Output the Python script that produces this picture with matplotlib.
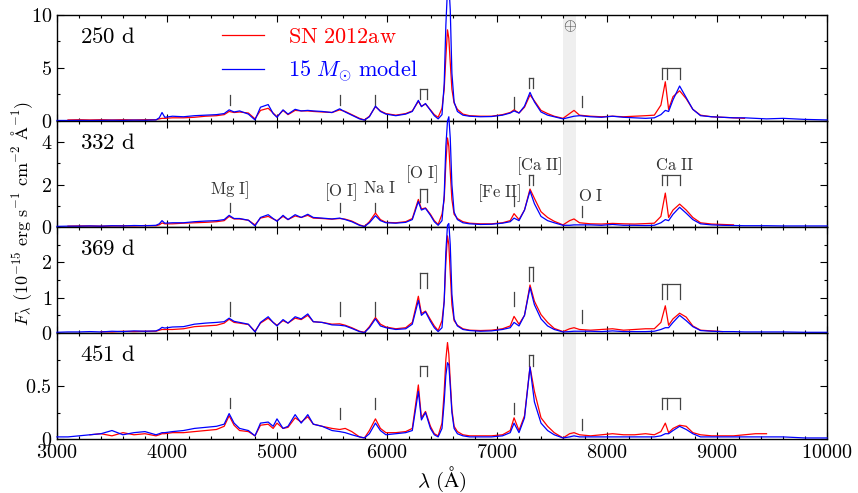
import numpy as np
import matplotlib.pyplot as plt
from matplotlib.ticker import MultipleLocator, FixedLocator, FormatStrFormatter

plt.rcParams['font.family'] = 'serif'
plt.rcParams['font.serif'] = ['cmr10']
plt.rcParams['mathtext.fontset'] = 'cm'
plt.rcParams['axes.formatter.use_mathtext'] = True

nan = np.nan

# wavelength samples (Angstrom)
wave = [3000, 3100, 3200, 3300, 3400, 3500, 3600, 3700, 3800, 3900,
        3930, 3955, 3980, 4050, 4150, 4250, 4350, 4450, 4520, 4565,
        4610, 4660, 4740, 4800, 4850, 4920, 4965, 5000, 5055, 5100,
        5165, 5220, 5280, 5330, 5410, 5500, 5570, 5620, 5680, 5750,
        5795, 5840, 5895, 5940, 5990, 6080, 6170, 6230, 6285, 6313,
        6350, 6395, 6430, 6465, 6500, 6520, 6535, 6550, 6562, 6575,
        6590, 6610, 6640, 6690, 6750, 6850, 6950, 7050, 7120, 7155,
        7200, 7250, 7300, 7340, 7400, 7460, 7520, 7600, 7660, 7700,
        7750, 7850, 7950, 8050, 8150, 8250, 8350, 8430, 8490, 8530,
        8560, 8600, 8660, 8720, 8780, 8850, 8950, 9050, 9150, 9250,
        9350, 9450, 9600, 9800, 10000]

# SN 2012aw observed spectra (1e-15 erg/s/cm2/A)
obs_250 = [nan, 0.10, 0.12, 0.10, 0.12, 0.10, 0.12, 0.10, 0.12, 0.12,
           0.20, 0.25, 0.25, 0.30, 0.30, 0.35, 0.45, 0.50, 0.60, 0.90,
           0.80, 0.85, 0.75, 0.20, 1.00, 1.20, 0.75, 0.40, 1.00, 0.60,
           1.00, 0.95, 0.95, 0.90, 0.85, 0.80, 1.05, 0.90, 0.60, 0.25,
           0.10, 0.45, 1.35, 0.95, 0.70, 0.55, 0.70, 0.95, 1.85, 1.40,
           1.60, 1.05, 0.60, 0.35, 1.20, 3.00, 6.00, 8.60, 7.80, 5.50,
           3.00, 1.70, 1.10, 0.65, 0.50, 0.45, 0.45, 0.60, 0.80, 1.05,
           0.75, 1.30, 2.45, 1.90, 1.00, 0.70, 0.45, 0.25, 0.70, 1.00,
           0.55, 0.45, 0.40, 0.45, 0.40, 0.45, 0.50, 0.55, 1.50, 3.70,
           1.10, 2.30, 2.85, 2.10, 1.10, 0.55, 0.40, 0.35, 0.30, 0.25,
           nan, nan, nan, nan, nan]
obs_332 = [nan, 0.04, 0.05, 0.05, 0.04, 0.05, 0.06, 0.05, 0.07, 0.06,
           0.10, 0.19, 0.15, 0.15, 0.18, 0.20, 0.22, 0.25, 0.30, 0.50,
           0.38, 0.38, 0.32, 0.10, 0.42, 0.50, 0.38, 0.30, 0.50, 0.35,
           0.52, 0.45, 0.55, 0.42, 0.40, 0.37, 0.40, 0.37, 0.28, 0.10,
           0.03, 0.25, 0.66, 0.35, 0.22, 0.20, 0.25, 0.40, 1.30, 0.85,
           0.90, 0.60, 0.30, 0.12, 0.60, 1.30, 3.00, 4.20, 3.80, 2.60,
           1.30, 0.60, 0.40, 0.25, 0.18, 0.15, 0.15, 0.20, 0.30, 0.63,
           0.35, 0.80, 1.79, 1.35, 0.72, 0.45, 0.27, 0.10, 0.30, 0.38,
           0.20, 0.15, 0.14, 0.17, 0.15, 0.14, 0.16, 0.18, 0.50, 1.60,
           0.45, 0.80, 1.08, 0.80, 0.45, 0.20, 0.14, 0.12, 0.10, nan,
           nan, nan, nan, nan, nan]
obs_369 = [nan, nan, nan, nan, 0.04, 0.03, 0.05, 0.04, 0.05, 0.05,
           0.08, 0.10, 0.10, 0.10, 0.12, 0.18, 0.20, 0.22, 0.28, 0.39,
           0.30, 0.28, 0.24, 0.05, 0.28, 0.42, 0.30, 0.22, 0.35, 0.28,
           0.42, 0.38, 0.50, 0.32, 0.30, 0.25, 0.26, 0.22, 0.15, 0.05,
           0.02, 0.18, 0.44, 0.25, 0.17, 0.12, 0.15, 0.30, 1.04, 0.55,
           0.62, 0.38, 0.20, 0.07, 0.35, 0.90, 2.00, 2.75, 2.50, 1.70,
           0.80, 0.35, 0.22, 0.12, 0.08, 0.07, 0.08, 0.12, 0.20, 0.47,
           0.25, 0.50, 1.36, 0.90, 0.52, 0.30, 0.13, 0.04, 0.12, 0.15,
           0.10, 0.08, 0.10, 0.12, 0.08, 0.10, 0.12, 0.12, 0.30, 0.77,
           0.22, 0.40, 0.56, 0.45, 0.20, 0.08, 0.06, 0.04, nan, nan,
           nan, nan, nan, nan, nan]
obs_451 = [nan, nan, nan, 0.04, 0.05, 0.03, 0.06, 0.04, 0.05, 0.03,
           0.04, 0.05, 0.05, 0.06, 0.06, 0.07, 0.08, 0.09, 0.12, 0.22,
           0.13, 0.08, 0.07, 0.03, 0.13, 0.14, 0.10, 0.15, 0.10, 0.11,
           0.20, 0.16, 0.21, 0.14, 0.12, 0.10, 0.09, 0.10, 0.07, 0.02,
           0.01, 0.08, 0.19, 0.10, 0.06, 0.06, 0.07, 0.10, 0.51, 0.20,
           0.26, 0.12, 0.05, 0.03, 0.15, 0.45, 0.75, 0.91, 0.80, 0.55,
           0.28, 0.12, 0.07, 0.04, 0.03, 0.03, 0.03, 0.04, 0.08, 0.20,
           0.08, 0.22, 0.68, 0.45, 0.20, 0.12, 0.06, 0.01, 0.05, 0.06,
           0.04, 0.03, 0.04, 0.05, 0.04, 0.04, 0.05, 0.04, 0.07, 0.15,
           0.06, 0.10, 0.13, 0.12, 0.06, 0.04, 0.03, 0.03, 0.03, 0.04,
           0.05, 0.05, nan, nan, nan]

# 15 Msun model spectra
mod_250 = [0.05, 0.05, 0.06, 0.05, 0.06, 0.07, 0.06, 0.08, 0.07, 0.10,
           0.30, 0.80, 0.35, 0.45, 0.40, 0.50, 0.55, 0.60, 0.70, 1.05,
           0.85, 0.95, 0.65, 0.10, 1.30, 1.55, 0.70, 0.35, 1.05, 0.65,
           1.10, 0.95, 1.00, 0.95, 0.90, 0.80, 1.15, 0.85, 0.55, 0.20,
           0.08, 0.40, 1.40, 0.90, 0.65, 0.50, 0.65, 0.90, 1.95, 1.35,
           1.65, 1.00, 0.50, 0.20, 0.60, 3.50, 9.00, 12.5, 13.0, 10.5,
           4.50, 1.80, 0.90, 0.55, 0.45, 0.40, 0.42, 0.55, 0.75, 0.95,
           0.75, 1.40, 2.70, 1.80, 0.85, 0.55, 0.40, 0.20, 0.35, 0.45,
           0.50, 0.40, 0.35, 0.45, 0.35, 0.30, 0.25, 0.30, 0.60, 1.00,
           0.90, 2.00, 3.30, 2.20, 1.10, 0.50, 0.40, 0.35, 0.30, 0.30,
           0.25, 0.20, 0.25, 0.15, 0.10]
mod_332 = [0.03, 0.04, 0.04, 0.05, 0.04, 0.06, 0.05, 0.07, 0.06, 0.08,
           0.15, 0.30, 0.18, 0.20, 0.20, 0.25, 0.28, 0.30, 0.35, 0.55,
           0.40, 0.40, 0.32, 0.05, 0.45, 0.58, 0.40, 0.27, 0.55, 0.35,
           0.58, 0.45, 0.60, 0.45, 0.42, 0.38, 0.42, 0.35, 0.25, 0.08,
           0.02, 0.20, 0.53, 0.30, 0.20, 0.18, 0.22, 0.35, 1.20, 0.80,
           0.88, 0.55, 0.25, 0.08, 0.30, 1.50, 3.80, 5.00, 5.20, 4.20,
           2.00, 0.70, 0.35, 0.20, 0.15, 0.12, 0.13, 0.18, 0.25, 0.42,
           0.30, 0.80, 1.70, 1.10, 0.50, 0.30, 0.20, 0.08, 0.08, 0.10,
           0.10, 0.10, 0.08, 0.12, 0.08, 0.08, 0.07, 0.08, 0.20, 0.35,
           0.30, 0.60, 0.93, 0.65, 0.35, 0.15, 0.10, 0.08, 0.07, 0.06,
           0.06, 0.06, 0.05, 0.05, 0.05]
mod_369 = [0.02, 0.03, 0.03, 0.04, 0.03, 0.05, 0.04, 0.06, 0.05, 0.06,
           0.10, 0.16, 0.14, 0.17, 0.18, 0.25, 0.28, 0.30, 0.32, 0.42,
           0.33, 0.30, 0.25, 0.03, 0.30, 0.46, 0.30, 0.20, 0.38, 0.28,
           0.46, 0.40, 0.54, 0.32, 0.30, 0.23, 0.22, 0.20, 0.13, 0.04,
           0.01, 0.15, 0.40, 0.20, 0.15, 0.10, 0.12, 0.25, 0.92, 0.50,
           0.60, 0.33, 0.15, 0.04, 0.15, 0.90, 2.30, 3.05, 3.10, 2.50,
           1.10, 0.40, 0.20, 0.10, 0.07, 0.05, 0.06, 0.10, 0.15, 0.30,
           0.20, 0.50, 1.29, 0.80, 0.40, 0.20, 0.10, 0.03, 0.04, 0.05,
           0.05, 0.05, 0.04, 0.06, 0.04, 0.04, 0.04, 0.05, 0.10, 0.15,
           0.15, 0.30, 0.50, 0.35, 0.18, 0.07, 0.05, 0.04, 0.04, 0.03,
           0.03, 0.03, 0.03, 0.02, 0.02]
mod_451 = [0.02, 0.02, 0.03, 0.04, 0.05, 0.08, 0.04, 0.06, 0.07, 0.04,
           0.05, 0.06, 0.06, 0.07, 0.08, 0.10, 0.11, 0.12, 0.14, 0.24,
           0.15, 0.10, 0.08, 0.03, 0.15, 0.16, 0.12, 0.19, 0.10, 0.12,
           0.23, 0.15, 0.23, 0.14, 0.12, 0.08, 0.07, 0.06, 0.04, 0.02,
           0.01, 0.05, 0.15, 0.08, 0.04, 0.05, 0.06, 0.08, 0.45, 0.18,
           0.25, 0.10, 0.04, 0.02, 0.10, 0.35, 0.60, 0.72, 0.70, 0.50,
           0.25, 0.10, 0.05, 0.03, 0.02, 0.02, 0.02, 0.03, 0.06, 0.15,
           0.06, 0.20, 0.68, 0.35, 0.15, 0.08, 0.04, 0.01, 0.02, 0.03,
           0.02, 0.02, 0.02, 0.02, 0.02, 0.02, 0.02, 0.02, 0.03, 0.05,
           0.05, 0.08, 0.12, 0.09, 0.05, 0.02, 0.02, 0.02, 0.02, 0.02,
           0.02, 0.02, 0.02, 0.01, 0.01]

epochs = ['250 d', '332 d', '369 d', '451 d']
observed = [obs_250, obs_332, obs_369, obs_451]
model = [mod_250, mod_332, mod_369, mod_451]
ymax = [10, 5, 3, 1]
yticks = [[0, 5, 10], [0, 2, 4], [0, 1, 2], [0, 0.5]]
yminor = [2.5, 1, 0.5, 0.25]

# line identifications
line_names = ['Mg I]', '[O I]', 'Na I', '[O I]', '[Fe II]', '[Ca II]', 'O I', 'Ca II']
line_waves = [[4571], [5577], [5890], [6300, 6364], [7155], [7291, 7324], [7774],
              [8498, 8542, 8662]]
# (bottom, top) of each marker, per epoch
mark_250 = [(1.5, 2.45), (1.5, 2.45), (1.5, 2.45), (2.04, 3.05), (1.1, 2.23),
            (3.08, 4.03), (1.35, 2.36), (3.96, 4.97)]
mark_332 = [(0.7, 1.15), (0.7, 1.15), (0.7, 1.15), (1.18, 1.79), (0.97, 1.47),
            (2.0, 2.47), (0.48, 0.97), (2.0, 2.47)]
mark_369 = [(0.48, 0.89), (0.47, 0.89), (0.47, 0.89), (1.27, 1.69), (0.77, 1.17),
            (1.46, 1.88), (0.27, 0.66), (0.96, 1.39)]
mark_451 = [(0.29, 0.39), (0.19, 0.29), (0.28, 0.39), (0.59, 0.69), (0.24, 0.34),
            (0.69, 0.79), (0.085, 0.19), (0.28, 0.39)]
marks = [mark_250, mark_332, mark_369, mark_451]
# where the names go (332 d panel)
label_x = [4571, 5577, 5936, 6313, 7020, 7380, 7855, 8615]
label_y = [1.76, 1.65, 1.84, 2.47, 1.60, 2.89, 1.45, 2.91]

telluric = (7600, 7720)
mark_col = '#444444'

fig, axes = plt.subplots(4, 1, figsize=(8.58, 4.93), dpi=100, sharex=True)
fig.subplots_adjust(left=0.0664, right=0.9639, top=0.9696, bottom=0.1095, hspace=0)

for i, ax in enumerate(axes):
    ax.axvspan(*telluric, color='#efefef', lw=0, zorder=0)
    ax.plot(wave, observed[i], color='red', lw=0.9, clip_on=False, zorder=3,
            label=r'$\mathrm{SN\ 2012aw}$')
    ax.plot(wave, model[i], color='blue', lw=0.9, clip_on=False, zorder=3,
            label=r'$\mathrm{15}\ M_{\odot}\ \mathrm{model}$')

    for lw_, (lo, hi) in zip(line_waves, marks[i]):
        for w in lw_:
            ax.plot([w, w], [lo, hi], color=mark_col, lw=0.9, zorder=2)
        if len(lw_) > 1:
            ax.plot([lw_[0], lw_[-1]], [hi, hi], color=mark_col, lw=0.9, zorder=2)

    ax.text(0.03, 0.79, r'$\mathrm{%s}$' % epochs[i].replace(' ', r'\ '),
            transform=ax.transAxes, fontsize=16.5, va='center', ha='left')

    ax.set_xlim(3000, 10000)
    ax.set_ylim(0, ymax[i])
    ax.xaxis.set_major_locator(MultipleLocator(1000))
    ax.xaxis.set_minor_locator(MultipleLocator(200))
    ax.yaxis.set_major_locator(FixedLocator(yticks[i]))
    ax.yaxis.set_minor_locator(MultipleLocator(yminor[i]))
    ax.xaxis.set_major_formatter(FormatStrFormatter('$%g$'))
    ax.yaxis.set_major_formatter(FormatStrFormatter('$%g$'))
    ax.tick_params(which='both', direction='in', top=True, right=True, labelsize=14.5)
    ax.tick_params(which='major', length=5, width=0.8)
    ax.tick_params(which='minor', length=2.5, width=0.8)
    for s in ax.spines.values():
        s.set_linewidth(1.0)

# names of the lines
for name, x, y in zip(line_names, label_x, label_y):
    axes[1].text(x, y, r'$\mathrm{%s}$' % name.replace(' ', r'\ '), ha='center',
                 va='center', fontsize=12, color='#333333')

axes[0].text(7660, 8.96, r'$\oplus$', ha='center', va='center', fontsize=12,
             color='#444444')

axes[0].legend(loc='upper left', bbox_to_anchor=(0.214, 0.88), frameon=False,
               fontsize=16, handlelength=1.9, handletextpad=1.1, labelspacing=0.5,
               borderpad=0, borderaxespad=0, labelcolor='linecolor')

axes[-1].set_xlabel(r'$\lambda\ (\mathrm{\AA})$', fontsize=15, labelpad=2)
fig.text(0.026, 0.567, r'$F_{\lambda}\ (10^{-15}\ \mathrm{erg\ s^{-1}\ cm^{-2}\ \AA^{-1}})$',
         rotation=90, ha='center', va='center', fontsize=13)

fig.savefig('out.png', dpi=100)
